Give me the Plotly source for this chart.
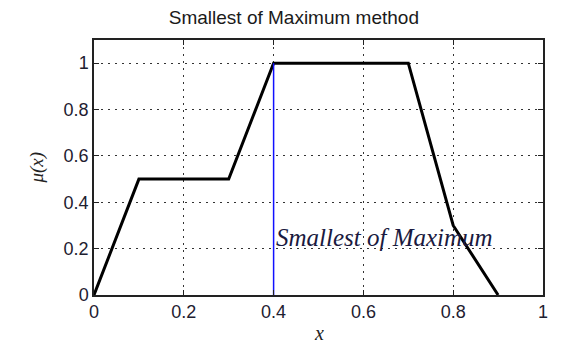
import plotly.graph_objects as go

x_pts = [0, 0.1, 0.3, 0.4, 0.7, 0.8, 0.9]
mu_pts = [0, 0.5, 0.5, 1, 1, 0.3, 0]
som_x = [0.4, 0.4]
som_y = [0, 1]
x_ticks = [0, 0.2, 0.4, 0.6, 0.8, 1]
x_labels = ["0", "0.2", "0.4", "0.6", "0.8", "1"]
y_ticks = [0, 0.2, 0.4, 0.6, 0.8, 1]
y_labels = ["0", "0.2", "0.4", "0.6", "0.8", "1"]
title = "Smallest of Maximum method"
annot = "Smallest of Maximum"

fig = go.Figure()
fig.add_trace(go.Scatter(x=x_pts, y=mu_pts, mode="lines",
                         line=dict(color="black", width=3), showlegend=False))
fig.add_trace(go.Scatter(x=som_x, y=som_y, mode="lines",
                         line=dict(color="#1010ff", width=1.5), showlegend=False))

fig.add_annotation(x=0.4, y=0.25, text="<i>" + annot + "</i>", showarrow=False,
                   xanchor="left", yanchor="middle",
                   font=dict(family="Liberation Serif", size=25, color="#1a1a40"))
fig.add_annotation(x=0.5, y=-0.149, xref="paper", yref="paper", text="<i>x</i>",
                   showarrow=False, xanchor="center", yanchor="middle",
                   font=dict(family="Liberation Serif", size=20, color="#222"))
fig.add_annotation(x=-0.129, y=0.5, xref="paper", yref="paper", text="<i>μ(x)</i>",
                   showarrow=False, xanchor="center", yanchor="middle", textangle=-90,
                   font=dict(family="Liberation Serif", size=19, color="#222"))
fig.update_layout(
    width=563, height=344,
    margin=dict(l=94, r=20, t=40, b=49),
    paper_bgcolor="white", plot_bgcolor="white",
    title=dict(text=title, x=0.522, xanchor="center", y=0.95, yanchor="middle",
               font=dict(family="Liberation Sans", size=19, color="#1a1a1a")),
)
axis_common = dict(showline=True, linecolor="#222", linewidth=1.5, mirror="ticks",
                   ticks="inside", ticklen=5, tickcolor="#222",
                   showgrid=True, gridcolor="#333", griddash="2px,5px", gridwidth=1,
                   zeroline=False, automargin=False,
                   tickfont=dict(family="Liberation Sans", size=18, color="#1e2030"))
fig.update_xaxes(range=[0, 1], tickvals=x_ticks, ticktext=x_labels, **axis_common)
fig.update_yaxes(range=[0, 1.1], tickvals=y_ticks, ticktext=y_labels, **axis_common)
fig.write_html("out.html")
